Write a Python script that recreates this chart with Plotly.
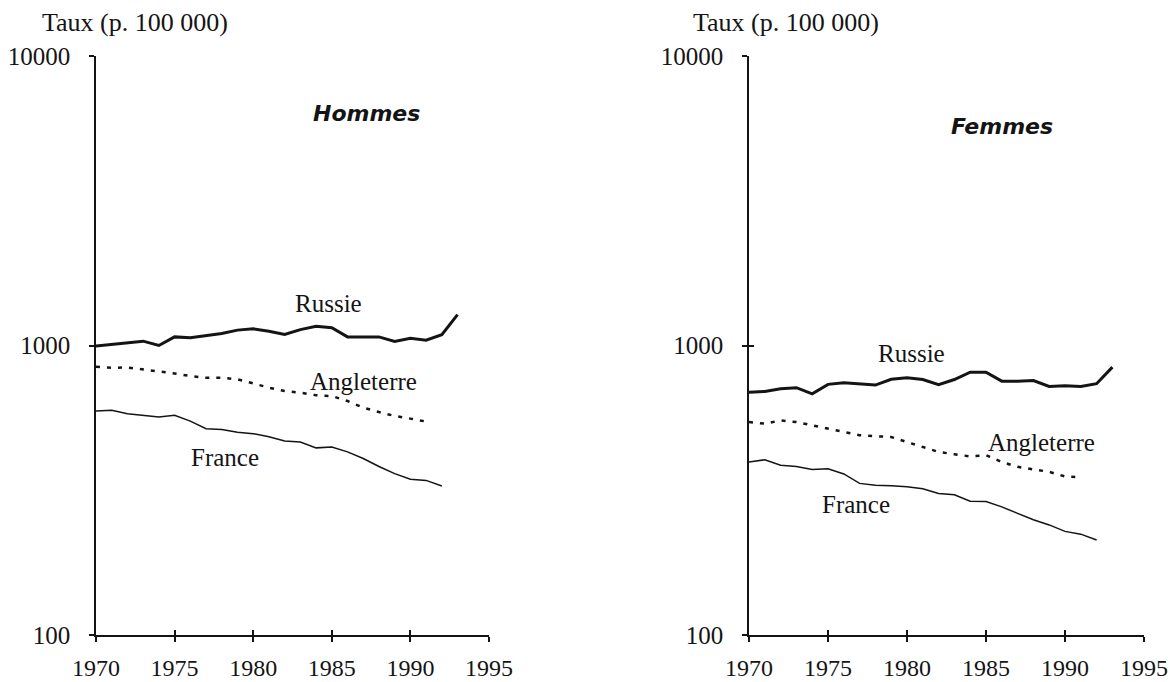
import plotly.graph_objects as go
from plotly.subplots import make_subplots

years_russie = list(range(1970, 1994))
years_angleterre = list(range(1970, 1992))
years_france = list(range(1970, 1993))

# Hommes
russie_h = [995, 1008, 1026, 1035, 1000, 1071, 1063, 1083, 1100, 1130, 1142, 1120,
            1091, 1135, 1166, 1151, 1071, 1071, 1071, 1032, 1060, 1043, 1089, 1279]
angleterre_h = [844, 838, 839, 827, 816, 801, 784, 774, 774, 764, 740, 715,
                696, 687, 673, 669, 643, 610, 589, 571, 559, 546]
france_h = [594, 598, 581, 575, 566, 574, 548, 516, 513, 502, 496, 484,
            468, 464, 443, 446, 429, 407, 382, 361, 345, 342, 327]

# Femmes
russie_f = [690, 694, 709, 715, 681, 734, 744, 738, 730, 764, 774, 763,
            732, 763, 809, 809, 753, 753, 757, 722, 726, 722, 738, 842]
angleterre_f = [544, 537, 551, 544, 530, 516, 503, 490, 486, 483, 464, 446,
                429, 421, 414, 418, 396, 381, 373, 366, 353, 350]
france_f = [396, 403, 386, 382, 373, 375, 360, 334, 329, 328, 325, 320,
            308, 305, 290, 289, 277, 263, 250, 240, 228, 223, 213]

year_ticks = [1970, 1975, 1980, 1985, 1990, 1995]
y_ticks = [100, 1000, 10000]

SERIF = "Liberation Serif, Times New Roman, serif"
INK = "#141414"

fig = make_subplots(rows=1, cols=2)

panels = [
    (1, russie_h, angleterre_h, france_h),
    (2, russie_f, angleterre_f, france_f),
]
for col, ru, an, fr in panels:
    fig.add_trace(go.Scatter(x=years_russie, y=ru, mode='lines',
                             line=dict(color=INK, width=3), showlegend=False),
                  row=1, col=col)
    fig.add_trace(go.Scatter(x=years_angleterre, y=an, mode='lines',
                             line=dict(color=INK, width=2.5, dash='4px,7px'),
                             showlegend=False),
                  row=1, col=col)
    fig.add_trace(go.Scatter(x=years_france, y=fr, mode='lines',
                             line=dict(color=INK, width=1.5), showlegend=False),
                  row=1, col=col)

# empty traces so the overlay axes (inner half of the crossing ticks) get drawn
fig.add_trace(go.Scatter(x=[], y=[], xaxis='x3', yaxis='y3', showlegend=False, hoverinfo='skip'))
fig.add_trace(go.Scatter(x=[], y=[], xaxis='x4', yaxis='y4', showlegend=False, hoverinfo='skip'))

# body margin is removed in the page (see post_script), so figure px == window px
W, H = 1170, 682
xdom = [[96 / W, 489 / W], [749 / W, 1144 / W]]
ydom = [1 - 635 / H, 1 - 56 / H]

tick_font = dict(family=SERIF, size=24, color=INK)

for i, name in enumerate(['xaxis', 'xaxis2']):
    fig.layout[name].update(
        domain=xdom[i], range=[1970, 1995], tickvals=year_ticks,
        showgrid=False, zeroline=False, showline=True, linecolor=INK, linewidth=1.5,
        ticks='outside', ticklen=5, tickwidth=1.5, tickcolor=INK,
        ticklabelstandoff=5, automargin=False,
        tickfont=tick_font,
    )
for i, name in enumerate(['yaxis', 'yaxis2']):
    fig.layout[name].update(
        domain=ydom, type='log', range=[2, 4], tickvals=y_ticks,
        ticktext=['100', '1000', '10000'],
        showgrid=False, zeroline=False, showline=True, linecolor=INK, linewidth=1.5,
        ticks='outside', ticklen=5, tickwidth=1.5, tickcolor=INK,
        ticklabelstandoff=14, automargin=False,
        tickfont=dict(family=SERIF, size=25, color=INK),
    )

# inside ticks on overlay axes
inner = dict(ticks='inside', ticklen=5, tickwidth=1.5, tickcolor=INK,
             showticklabels=False, showline=False, showgrid=False, zeroline=False)
fig.update_layout(
    xaxis3=dict(overlaying='x', anchor='y', range=[1970, 1995], tickvals=year_ticks, **inner),
    yaxis3=dict(overlaying='y', anchor='x', type='log', range=[2, 4], tickvals=y_ticks, **inner),
    xaxis4=dict(overlaying='x2', anchor='y2', range=[1970, 1995], tickvals=year_ticks, **inner),
    yaxis4=dict(overlaying='y2', anchor='x2', type='log', range=[2, 4], tickvals=y_ticks, **inner),
)

label_font = dict(family=SERIF, size=25, color=INK)
title_font = dict(family="DejaVu Sans, Arial, sans-serif", size=22, color=INK)

annotations = [
    # axis titles
    dict(text="Taux (p. 100 000)", x=40 / W, y=1 - 23 / H,
         xref='paper', yref='paper', xanchor='left', yanchor='middle',
         font=dict(family=SERIF, size=26, color=INK)),
    dict(text="Taux (p. 100 000)", x=691 / W, y=1 - 23 / H,
         xref='paper', yref='paper', xanchor='left', yanchor='middle',
         font=dict(family=SERIF, size=26, color=INK)),
    # panel titles
    dict(text="<b><i>Hommes</i></b>", x=1987.2, y=3.80, xref='x', yref='y', font=title_font),
    dict(text="<b><i>Femmes</i></b>", x=1986.0, y=3.755, xref='x2', yref='y2', font=title_font),
    # series labels, Hommes
    dict(text="Russie", x=1984.8, y=3.145, xref='x', yref='y', font=label_font),
    dict(text="Angleterre", x=1987.0, y=2.876, xref='x', yref='y', font=label_font),
    dict(text="France", x=1978.2, y=2.614, xref='x', yref='y', font=label_font),
    # series labels, Femmes
    dict(text="Russie", x=1980.3, y=2.972, xref='x2', yref='y2', font=label_font),
    dict(text="Angleterre", x=1988.5, y=2.666, xref='x2', yref='y2', font=label_font),
    dict(text="France", x=1976.8, y=2.452, xref='x2', yref='y2', font=label_font),
]
for a in annotations:
    a['showarrow'] = False
fig.update_layout(annotations=annotations)

fig.update_layout(
    width=W, height=H,
    margin=dict(l=0, r=0, t=0, b=0),
    paper_bgcolor='white',
    plot_bgcolor='white',
    showlegend=False,
)

fig.write_html("out.html",
               config={'displayModeBar': False},
               post_script="document.body.style.margin='0';"
                           "document.body.style.overflow='hidden';")
